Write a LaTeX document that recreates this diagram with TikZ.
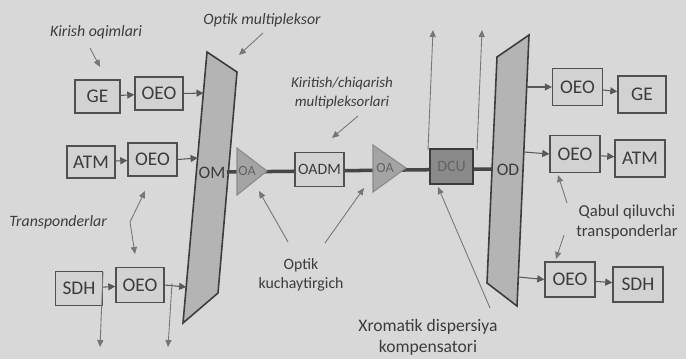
\documentclass[tikz,border=0pt]{standalone}
\usepackage{fontspec}
\setmainfont{Carlito}
\usetikzlibrary{arrows.meta}
\definecolor{bg}{HTML}{D8D8D8}
\definecolor{ink}{HTML}{3C3C3C}
\definecolor{boxfill}{HTML}{D2D2D2}
\definecolor{trapfill}{HTML}{B4B4B4}
\definecolor{ampfill}{HTML}{A4A4A4}
\definecolor{dcufill}{HTML}{8A8A8A}
\tikzset{
  box/.style={draw=ink!90, line width=0.8pt, fill=boxfill, text=ink, font=\fontsize{11}{12}\selectfont, inner sep=0pt},
  lbl/.style={text=ink, font=\fontsize{9}{11}\selectfont, align=center, inner sep=1pt},
  ilbl/.style={lbl, font=\fontsize{9}{11}\selectfont\itshape},
  arr/.style={draw=ink!85, line width=0.6pt, -{Triangle[length=4pt,width=4pt]}},
  ptr/.style={draw=ink!70, line width=0.5pt, -{Triangle[length=4pt,width=3.5pt]}},
  trap/.style={draw=ink, line width=0.9pt, fill=trapfill},
  amp/.style={draw=ink!60, line width=0.6pt, fill=ampfill},
  fibre/.style={draw=ink!95, line width=2pt}
}
\begin{document}
\begin{tikzpicture}[x=0.02cm,y=-0.02cm]
\fill[bg] (0,0) rectangle (686,359);
\useasboundingbox (0,0) rectangle (686,359);

% multiplexer / demultiplexer
\path[trap] (207,52) -- (237,72) -- (218,293) -- (183,323) -- cycle;
\path[trap] (497,57) -- (529,35) -- (517,306) -- (487,283) -- cycle;
\node[text=ink, font=\fontsize{10}{11}\selectfont] (om) at (212,173) {OM};
\node[text=ink, font=\fontsize{10}{11}\selectfont] (od) at (508,170) {OD};

% fibre line
\coordinate (fs) at (227,172);
\coordinate (fe) at (492,169);
\draw[fibre] (fs) -- (fe);

% amplifiers
\path[amp] (237,148) -- (267,171) -- (237,195) -- cycle;
\node[text=ink!80, font=\fontsize{8}{9}\selectfont] (oa1) at (247,171) {OA};
\path[amp] (373,145) -- (406,168) -- (373,192) -- cycle;
\node[text=ink!80, font=\fontsize{8}{9}\selectfont] (oa2) at (385,168) {OA};

% OADM and DCU
\node[box, minimum width=0.98cm, minimum height=0.68cm, font=\fontsize{9}{10}\selectfont] (oadm) at (319.5,169.5) {OADM};
\node[box, fill=dcufill, draw=ink, minimum width=0.86cm, minimum height=0.7cm, text=ink!80, font=\fontsize{9}{10}\selectfont] (dcu) at (451.5,166.5) {DCU};

% left transponders
\node[box, minimum width=0.9cm, minimum height=0.66cm] (ge1) at (97.5,96.5) {GE};
\node[box, minimum width=0.96cm, minimum height=0.66cm] (oeo1) at (159,93.5) {OEO};
\node[box, minimum width=0.96cm, minimum height=0.64cm] (atm1) at (91,162) {ATM};
\node[box, minimum width=0.98cm, minimum height=0.66cm] (oeo2) at (152.5,159.5) {OEO};
\node[box, minimum width=0.94cm, minimum height=0.68cm] (sdh1) at (79,288.5) {SDH};
\node[box, minimum width=0.96cm, minimum height=0.7cm] (oeo3) at (140,285) {OEO};

% right transponders
\node[box, minimum width=1.0cm, minimum height=0.74cm] (oeo4) at (577.5,87) {OEO};
\node[box, minimum width=0.96cm, minimum height=0.74cm] (ge2) at (642,94.5) {GE};
\node[box, minimum width=1.0cm, minimum height=0.74cm] (oeo5) at (575,154) {OEO};
\node[box, minimum width=1.0cm, minimum height=0.74cm] (atm2) at (640,158.5) {ATM};
\node[box, minimum width=1.0cm, minimum height=0.7cm] (oeo6) at (570,279.5) {OEO};
\node[box, minimum width=1.0cm, minimum height=0.7cm] (sdh2) at (638,284.5) {SDH};

% coordinates on mux edges
\coordinate (om1) at (203.5,93);
\coordinate (om2) at (197.6,158);
\coordinate (om3) at (186.2,287);
\coordinate (od1) at (526.7,87);
\coordinate (od2) at (523.8,152);
\coordinate (od3) at (518.3,277);

% signal arrows
\draw[arr] (ge1) -- (oeo1);
\draw[arr] (oeo1.east) -- (om1);
\draw[arr] (atm1) -- (oeo2);
\draw[arr] (oeo2.east) -- (om2);
\draw[arr] (sdh1) -- (oeo3);
\draw[arr] (oeo3.east) -- (om3);
\draw[arr] (od1) -- (oeo4.west);
\draw[arr] (oeo4) -- (ge2);
\draw[arr] (od2) -- (oeo5.west);
\draw[arr] (oeo5) -- (atm2);
\draw[arr] (od3) -- (oeo6.west);
\draw[arr] (oeo6) -- (sdh2);

% add/drop channels
\coordinate (dn1s) at (103,272); \coordinate (dn1e) at (100,347);
\coordinate (dn2s) at (172,283); \coordinate (dn2e) at (168,347);
\coordinate (up1s) at (428,150); \coordinate (up1e) at (433,30);
\coordinate (up2s) at (477,150); \coordinate (up2e) at (482,30);
\draw[ptr] (dn1s) -- (dn1e);
\draw[ptr] (dn2s) -- (dn2e);
\draw[ptr] (up1s) -- (up1e);
\draw[ptr] (up2s) -- (up2e);

% labels
\node[ilbl] (kir) at (96,32) {Kirish oqimlari};
\coordinate (kirs) at (90,48);
\coordinate (kira) at (100,67);
\draw[ptr] (kirs) -- (kira);

\node[ilbl] (omlab) at (262,20) {Optik multipleksor};
\coordinate (omlabs) at (263,33);
\coordinate (omlaba) at (239,55);
\draw[ptr] (omlabs) -- (omlaba);

\node[ilbl] (tr) at (58,222) {Transponderlar};
\coordinate (trs) at (130,222);
\coordinate (tre1) at (145,191);
\coordinate (tre2) at (135,254);
\draw[ptr] (trs) -- (tre1);
\draw[ptr] (trs) -- (tre2);

\node[lbl, font=\fontsize{8.5}{11}\selectfont\itshape] (kcm) at (342,93) {Kiritish/chiqarish\\multipleksorlari};
\coordinate (kcms) at (358,116);
\coordinate (kcme) at (332,138);
\draw[ptr] (kcms) -- (kcme);

\node[lbl] (ok) at (301,275) {Optik\\kuchaytirgich};
\coordinate (oks1) at (288,242); \coordinate (oke1) at (259,191);
\coordinate (oks2) at (325,243); \coordinate (oke2) at (364,188);
\draw[ptr] (oks1) -- (oke1);
\draw[ptr] (oks2) -- (oke2);

\node[lbl, font=\fontsize{10}{12}\selectfont] (xdk) at (428,337) {Xromatik dispersiya\\kompensatori};
\coordinate (xdks) at (490,308);
\coordinate (xdke) at (438,187);
\draw[ptr] (xdks) -- (xdke);

\node[lbl, font=\fontsize{9.5}{11.5}\selectfont] (qq) at (627,222) {Qabul qiluvchi\\transponderlar};
\coordinate (qqs1) at (567,203);
\coordinate (qqe1) at (558,175);
\coordinate (qqs2) at (564,235);
\coordinate (qqe2) at (556,259);
\draw[ptr] (qqs1) -- (qqe1);
\draw[ptr] (qqs2) -- (qqe2);
\end{tikzpicture}
\end{document}
